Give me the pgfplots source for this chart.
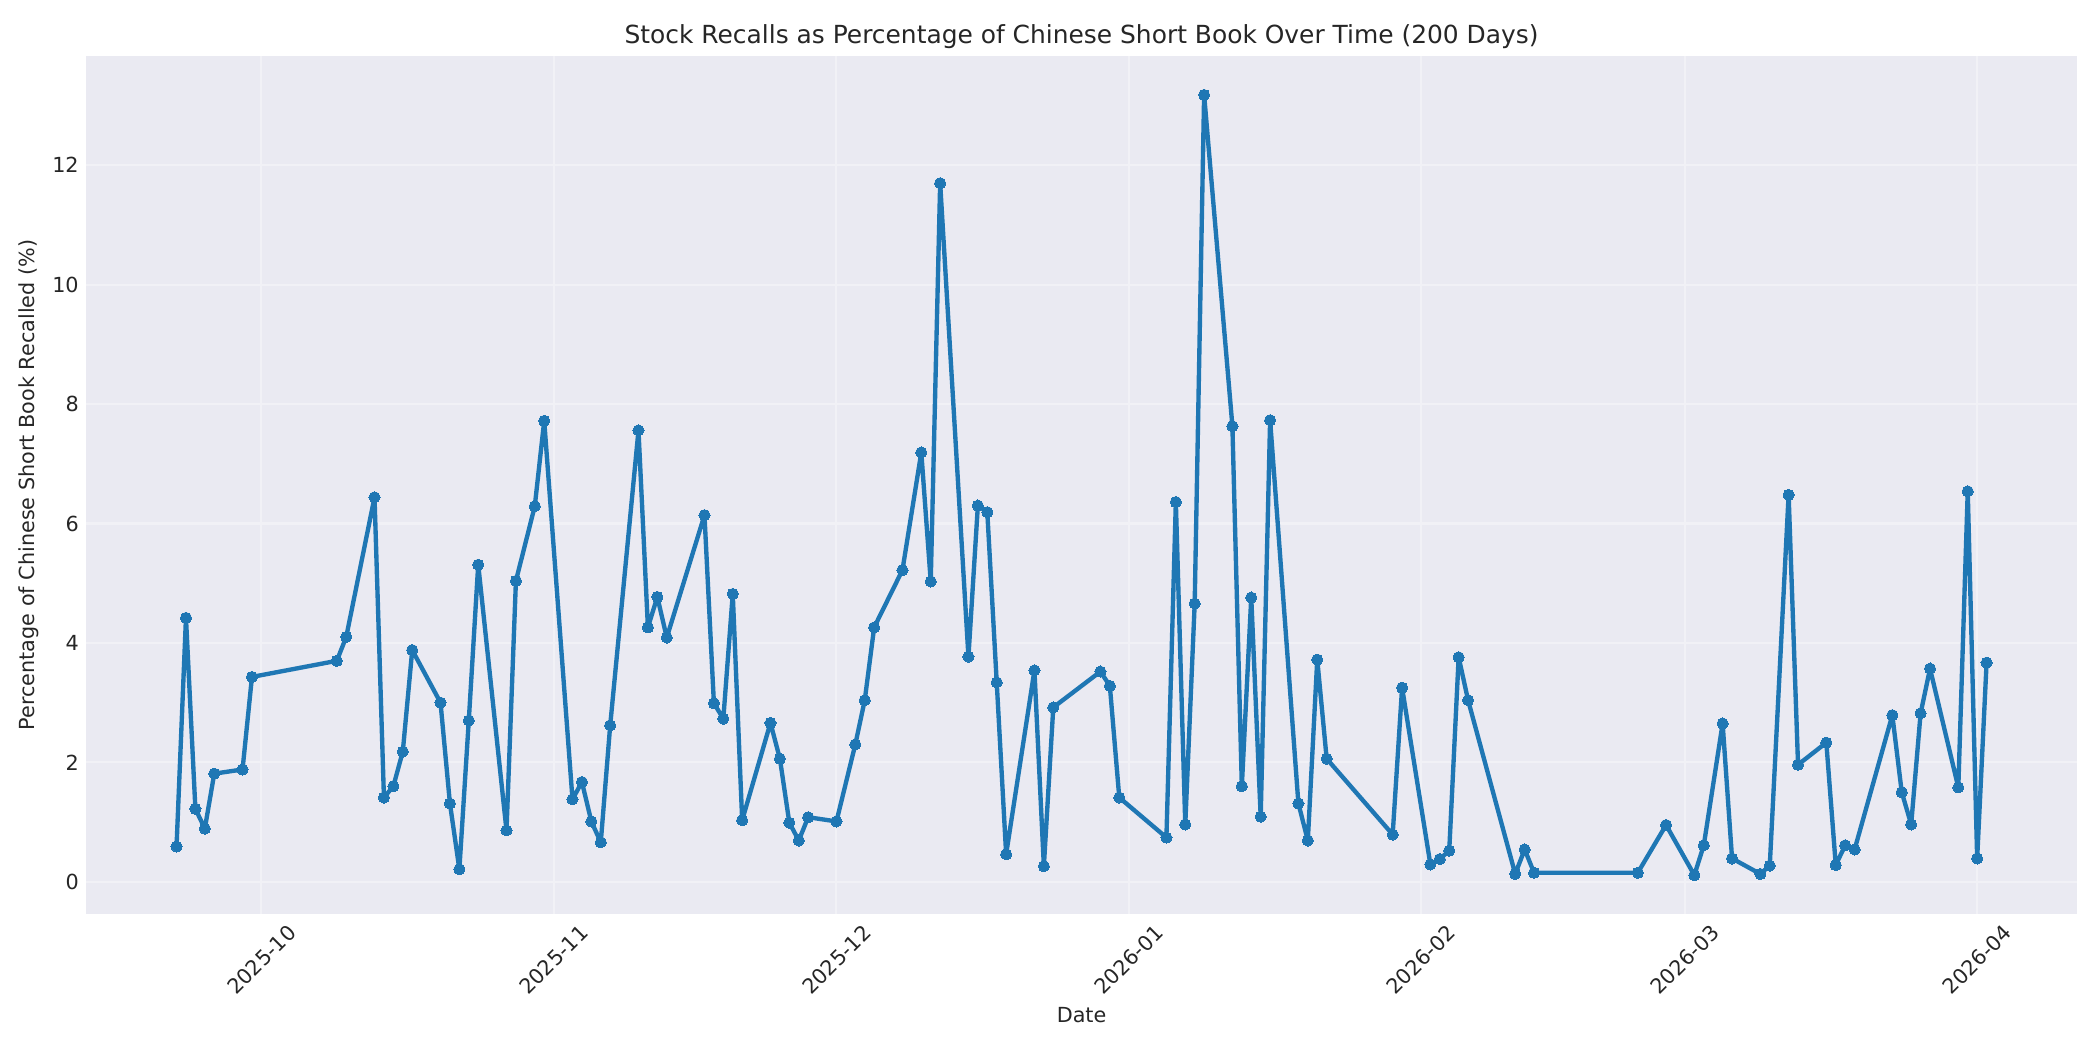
\documentclass[border=0pt]{standalone}
\usepackage{fontspec}
\setmainfont{DejaVu Sans}
\usepackage{pgfplots}
\pgfplotsset{compat=1.18}

\definecolor{bgcol}{RGB}{234,234,242}
\definecolor{gridcol}{RGB}{241,241,246}
\definecolor{linecol}{HTML}{1F77B4}
\definecolor{txt}{RGB}{38,38,38}

% days counted from 2025-10-01
\pgfplotstableread{
day pct
-9 0.59
-8 4.42
-7 1.22
-6 0.89
-5 1.81
-2 1.88
-1 3.43
8 3.70
9 4.10
12 6.44
13 1.41
14 1.60
15 2.18
16 3.88
19 3.00
20 1.31
21 0.21
22 2.70
23 5.31
26 0.86
27 5.04
29 6.29
30 7.72
33 1.38
34 1.67
35 1.01
36 0.66
37 2.62
40 7.56
41 4.26
42 4.77
43 4.09
47 6.14
48 2.99
49 2.73
50 4.82
51 1.03
54 2.66
55 2.06
56 0.99
57 0.69
58 1.08
61 1.01
63 2.30
64 3.04
65 4.26
68 5.22
70 7.19
71 5.03
72 11.70
75 3.77
76 6.30
77 6.19
78 3.34
79 0.46
82 3.54
83 0.26
84 2.92
89 3.52
90 3.28
91 1.41
96 0.74
97 6.36
98 0.96
99 4.66
100 13.18
103 7.63
104 1.60
105 4.76
106 1.09
107 7.73
110 1.31
111 0.69
112 3.72
113 2.06
120 0.79
121 3.25
124 0.29
125 0.38
126 0.52
127 3.76
128 3.04
133 0.13
134 0.54
135 0.15
146 0.15
149 0.95
152 0.11
153 0.61
155 2.65
156 0.39
159 0.13
160 0.27
162 6.48
163 1.96
166 2.33
167 0.28
168 0.61
169 0.54
173 2.79
174 1.50
175 0.96
176 2.82
177 3.57
180 1.58
181 6.54
182 0.39
183 3.67
}\recalls

\begin{document}
\begin{tikzpicture}
\path[use as bounding box] (0,0) rectangle (1008bp,504bp);
\begin{axis}[
    at={(41.3bp,65.3bp)}, anchor=south west,
    scale only axis,
    width=955.7bp, height=411.8bp,
    xmin=-18.6, xmax=192.6,
    ymin=-0.54, ymax=13.83,
    axis background/.style={fill=bgcol},
    axis line style={draw=none},
    major tick length=0pt,
    grid=major,
    major grid style={color=gridcol, line width=1pt},
    xtick={0,31,61,92,123,151,182},
    xticklabels={2025-10,2025-11,2025-12,2026-01,2026-02,2026-03,2026-04},
    ytick={0,2,4,6,8,10,12},
    /pgf/number format/assume math mode=true,
    tick label style={font=\fontsize{10}{12}\selectfont, text=txt},
    xticklabel style={yshift=-22bp, rotate=45, anchor=center},
    title={Stock Recalls as Percentage of Chinese Short Book Over Time (200 Days)},
    title style={font=\fontsize{12}{14}\selectfont, text=txt,
        at={(axis description cs:0.5,1.0078)}, anchor=center},
    xlabel={Date},
    xlabel style={font=\fontsize{10}{12}\selectfont, text=txt,
        at={(axis description cs:0.5,-0.1178)}, anchor=center},
    ylabel={Percentage of Chinese Short Book Recalled (\%)},
    ylabel style={font=\fontsize{10}{12}\selectfont, text=txt,
        at={(axis description cs:-0.0286,0.5)}, anchor=center},
]
\addplot[color=linecol, line width=2.1pt, line join=round, line cap=round,
    mark=*, mark size=2.7pt,
    mark options={fill=linecol, draw=linecol, line width=0pt}]
    table[x=day, y=pct] {\recalls};
\end{axis}
\end{tikzpicture}
\end{document}
